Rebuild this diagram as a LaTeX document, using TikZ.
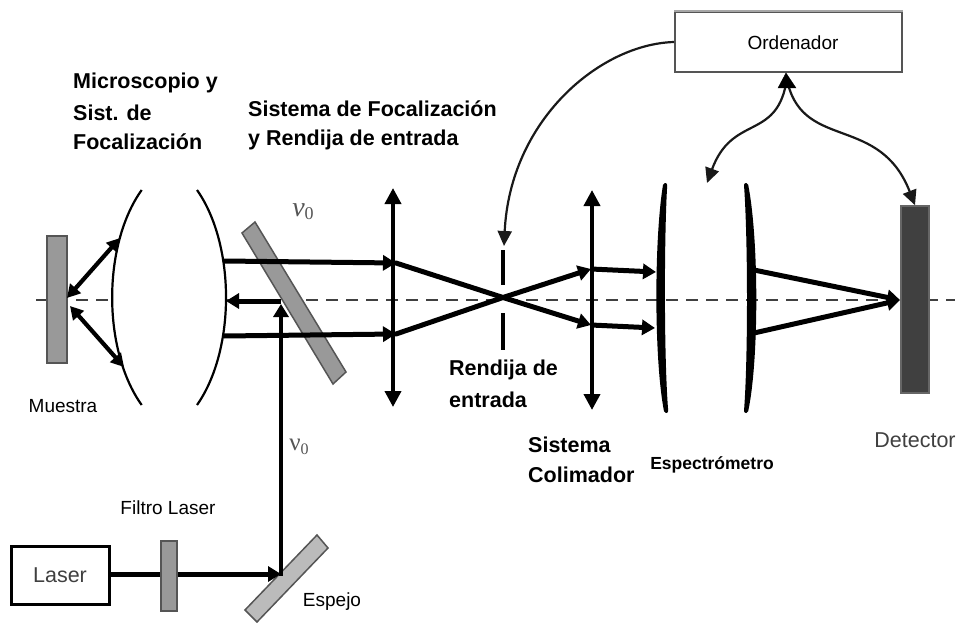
\documentclass[tikz,border=0pt]{standalone}
\usepackage{fontspec}
\setmainfont{Liberation Sans}
\newfontfamily\greekserif{Liberation Serif}
\usetikzlibrary{arrows.meta}
\definecolor{mirrorgray}{HTML}{999999}
\definecolor{espejogray}{HTML}{BBBBBB}
\definecolor{detgray}{HTML}{404040}
\definecolor{edgegray}{HTML}{555555}
\newcommand{\fs}[1]{\fontsize{#1}{#1}\selectfont}
\tikzset{
  axisline/.style={draw=detgray,line width=2pt,dash pattern=on 12pt off 8pt},
  beam/.style={draw=black,line width=5pt},
  beamarrow/.style={beam,-{Triangle[length=13pt,width=15pt]}},
  lensarrow/.style={draw=black,line width=3.8pt,{Triangle[length=16pt,width=16pt]}-{Triangle[length=16pt,width=16pt]}},
  samplearrow/.style={draw=black,line width=4.2pt,{Triangle[length=13pt,width=14pt]}-{Triangle[length=13pt,width=14pt]}},
  control/.style={draw=black!90,line width=2.2pt,-{Triangle[length=15pt,width=14pt]}},
  lensarc/.style={draw=black,line width=2.2pt},
  thicklens/.style={fill=black,draw=black,line width=4pt,line join=round},
  plate/.style={draw=edgegray,line width=1.5pt},
  title/.style={font=\fs{21.5}\bfseries,text=black,anchor=west,inner sep=0pt},
  small/.style={font=\fs{19},text=black,inner sep=0pt},
  greylabel/.style={font=\fs{21.5},text=detgray,inner sep=0pt},
  nu/.style={font=\greekserif\fs{25},text=edgegray,inner sep=0pt}
}
\begin{document}
\begin{tikzpicture}[x=1pt,y=-1pt]
\useasboundingbox[fill=white] (0,0) rectangle (956,623);
% axis
\draw[axisline] (36,300) -- (112,300);
\draw[axisline] (226,300) -- (955,300);
% plates
\node[plate,fill=mirrorgray,minimum width=20pt,minimum height=127pt,inner sep=0pt] (muestra) at (57,299.5) {};
\node[plate,fill=detgray,draw=detgray!80!white,minimum width=28pt,minimum height=187pt,inner sep=0pt] (detector) at (915,299.5) {};
\draw[plate,fill=mirrorgray] (242,233) -- (255,222) -- (346,372) -- (333,384) -- cycle;
\draw[plate,fill=espejogray] (317,535) -- (328,548) -- (257,622) -- (245,610) -- cycle;
% microscope lens
\draw[lensarc] (141.7,190) .. controls (102.3,245) and (102.3,350) .. (141.7,405);
\draw[lensarc] (197,190) .. controls (235.7,245) and (235.7,350) .. (197,405);
% sample arrows
\coordinate (s0) at (67,298);
\coordinate (s1) at (120,238);
\coordinate (s2) at (70,306);
\coordinate (s3) at (124,367);
\draw[samplearrow] (s0) -- (s1);
\draw[samplearrow] (s2) -- (s3);
% collimating lenses
\coordinate (l1t) at (393,188);
\coordinate (l1b) at (393,407);
\coordinate (l2t) at (592,190);
\coordinate (l2b) at (592,410);
\draw[lensarrow] (l1t) -- (l1b);
\draw[lensarrow] (l2t) -- (l2b);
% slit
\coordinate (st1) at (503,250);
\coordinate (st2) at (503,285);
\coordinate (st3) at (503,313);
\coordinate (st4) at (503,350);
\draw[draw=black,line width=3.4pt] (st1) -- (st2) (st3) -- (st4);
% beams
\coordinate (bu0) at (224,261);
\coordinate (bu1) at (396,263);
\coordinate (bl0) at (224,336);
\coordinate (bl1) at (396,334);
\coordinate (cross) at (503,297.5);
\coordinate (ru) at (591,269);
\coordinate (rl) at (591,325);
\draw[beamarrow] (bu0) -- (bu1);
\draw[beamarrow] (bl0) -- (bl1);
\draw[beamarrow,line cap=round] (bu1) -- (cross) -- (rl);
\draw[beamarrow,line cap=round] (bl1) -- (cross) -- (ru);
\coordinate (su) at (656,272);
\coordinate (sl) at (655,328);
\draw[beamarrow] (ru) -- (su);
\draw[beamarrow] (rl) -- (sl);
% spectrometer
\draw[thicklens] (665,185) .. controls (656,240) and (656,360) .. (666,411)
  -- (666.2,411) .. controls (662,360) and (662,240) .. (665.2,185) -- cycle;
\draw[thicklens] (746,185) .. controls (750,240) and (750,360) .. (746,411)
  -- (746.2,411) .. controls (757,360) and (757,240) .. (746.2,185) -- cycle;
% beams to detector
\coordinate (du) at (754,270);
\coordinate (dl) at (754,333);
\coordinate (dtip) at (900,300);
\draw[beamarrow] (du) -- (dtip);
\draw[beamarrow] (dl) -- (dtip);
% laser path
\node[draw=black,line width=3pt,fill=white,minimum width=98pt,minimum height=58pt,inner sep=0pt,font=\fs{21.5},text=detgray] (laser) at (60,575) {Laser};
\coordinate (turn) at (281,574);
\coordinate (vtip) at (281,304);
\coordinate (htip) at (226,301);
\coordinate (hstart) at (281,301);
\draw[beamarrow] (laser.east |- turn) -- (turn);
\draw[beamarrow,line width=4.2pt,shorten <=-2pt] (turn) -- (vtip);
\draw[beamarrow] (hstart) -- (htip);
\node[plate,fill=mirrorgray,minimum width=16pt,minimum height=70pt,inner sep=0pt] (filtro) at (169,576) {};
% computer
\node[draw=edgegray,line width=1.6pt,fill=white,minimum width=227pt,minimum height=60pt,inner sep=0pt] (ordenador) at (788.5,42) {};
\draw[draw=black!35,line width=1.6pt] (ordenador.north west) -- (ordenador.north east);
\node[small] (ordtxt) at (793,43) {Ordenador};
\coordinate (slitin) at (504,246);
\coordinate (spec) at (707,183);
\coordinate (fork) at (786,73);
\draw[control] (ordenador.west) .. controls (600,44) and (510,120) .. (slitin);
\draw[control] (786,84) .. controls (775,140) and (732,115) .. (spec);
\draw[control] (788,84) .. controls (805,150) and (880,115) .. (detector.north);
\draw[draw=black,fill=black] (fork) -- (778,88) -- (796,88) -- cycle;
% labels
\node[title] (t1) at (73,83) {Microscopio y};
\node[title] (t2) at (73,113) {Sist. de};
\node[title] (t3) at (73,142) {Focalización};
\node[title] (t4) at (248,109) {Sistema de Focalización};
\node[title] (t5) at (248,140) {y Rendija de entrada};
\node[title] (t6) at (449,370) {Rendija de};
\node[title] (t7) at (449,400) {entrada};
\node[title] (t8) at (528,445) {Sistema};
\node[title] (t9) at (528,475) {Colimador};
\node[small] (t10) at (63,406) {Muestra};
\node[small] (t11) at (168,508) {Filtro Laser};
\node[small] (t12) at (332,602) {Espejo};
\node[small,font=\fs{17.5}\bfseries] (t13) at (712,465) {Espectrómetro};
\node[greylabel] (t14) at (915,440) {Detector};
\node[nu,font=\greekserif\itshape\fs{28}] (n1) at (303,212) {ν\raisebox{-3pt}{\fs{18}\upshape 0}};
\node[nu] (n2) at (299,447) {ν\raisebox{-4pt}{\fs{16}0}};
\end{tikzpicture}
\end{document}
